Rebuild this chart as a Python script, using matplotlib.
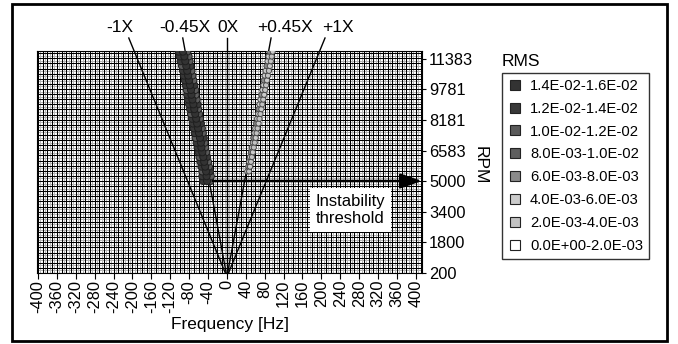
import matplotlib
matplotlib.use('Agg')
import matplotlib.pyplot as plt
import numpy as np
from matplotlib.colors import ListedColormap, BoundaryNorm
from matplotlib.lines import Line2D
from matplotlib.patches import Rectangle

plt.rcParams['font.family'] = ['Liberation Sans', 'DejaVu Sans']

# ---------------- data ----------------
freq_ticks = list(range(-400, 401, 40))
rpm_ticks = [200, 1800, 3400, 5000, 6583, 8181, 9781, 11383]
order_names = ['-1X', '-0.45X', '0X', '+0.45X', '+1X']
order_values = [-1.0, -0.45, 0.0, 0.45, 1.0]
threshold_rpm = 5000

rms_bins = ['1.4E-02-1.6E-02', '1.2E-02-1.4E-02', '1.0E-02-1.2E-02', '8.0E-03-1.0E-02',
            '6.0E-03-8.0E-03', '4.0E-03-6.0E-03', '2.0E-03-4.0E-03', '0.0E+00-2.0E-03']
rms_edges = [0.0, 0.002, 0.004, 0.006, 0.008, 0.010, 0.012, 0.014, 0.016]
rms_colors_low_to_high = ['#ffffff', '#c2c2c2', '#cbcbcb', '#8a8a8a',
                          '#5e5e5e', '#5a5a5a', '#383838', '#333333']

# sub-synchronous component near -0.45X (rows of the waterfall)
neg_rpm = [5000, 5250, 5500, 5750, 6000, 6250, 6500, 6750, 7000, 7250, 7500, 7750, 8000, 8250,
           8500, 8750, 9000, 9250, 9500, 9750, 10000, 10250, 10500, 10750, 11000, 11250, 11500, 11750]
neg_mid = [-42, -43, -44, -46, -48, -50, -52, -54, -55, -57, -59, -61, -63, -65,
           -67, -69, -71, -73, -75, -76, -78, -80, -82, -84, -86, -88, -90, -93]
neg_left = [-50, -52, -52, -54, -56, -58, -60, -62, -64, -66, -68, -70, -72, -74,
            -76, -78, -80, -82, -84, -85, -87, -89, -91, -93, -95, -98, -100, -102]
neg_right = [-35, -34, -36, -38, -40, -42, -44, -46, -47, -49, -51, -53, -55, -57,
             -59, -61, -62, -64, -66, -67, -69, -71, -73, -75, -77, -79, -81, -84]
neg_rms_mid = [0.015, 0.015, 0.015, 0.015, 0.015, 0.015, 0.015, 0.015, 0.015, 0.015, 0.015, 0.015, 0.015, 0.015,
               0.015, 0.015, 0.015, 0.015, 0.015, 0.015, 0.015, 0.015, 0.015, 0.015, 0.015, 0.015, 0.015, 0.015]
neg_rms_left = [0.013, 0.013, 0.011, 0.013, 0.013, 0.011, 0.013, 0.013, 0.013, 0.011, 0.013, 0.013, 0.013, 0.013,
                0.011, 0.013, 0.013, 0.013, 0.013, 0.011, 0.013, 0.013, 0.013, 0.013, 0.011, 0.013, 0.013, 0.013]
neg_rms_right = [0.011, 0.009, 0.013, 0.011, 0.009, 0.013, 0.011, 0.009, 0.011, 0.013, 0.009, 0.011, 0.013, 0.009,
                 0.011, 0.009, 0.013, 0.011, 0.009, 0.011, 0.013, 0.009, 0.011, 0.009, 0.013, 0.011, 0.009, 0.011]

# super-synchronous faint component near +0.45X
pos_rpm = [5500, 5750, 6000, 6250, 6500, 6750, 7000, 7250, 7500, 7750, 8000, 8250, 8500,
           8750, 9000, 9250, 9500, 9750, 10000, 10250, 10500, 10750, 11000, 11250, 11500, 11750]
pos_a = [43, 45, 47, 49, 51, 53, 55, 56, 58, 60, 62, 64, 66,
         67, 69, 71, 73, 75, 77, 78, 80, 82, 84, 86, 88, 90]
pos_b = [47, 49, 51, 53, 55, 57, 59, 61, 63, 65, 67, 69, 71,
         73, 75, 77, 79, 81, 83, 85, 87, 89, 91, 93, 95, 97]
pos_rms_a = [0.005, 0.007, 0.005, 0.005, 0.007, 0.005, 0.005, 0.007, 0.005, 0.005, 0.007, 0.005, 0.005,
             0.007, 0.005, 0.005, 0.007, 0.005, 0.005, 0.007, 0.005, 0.005, 0.007, 0.005, 0.005, 0.007]
pos_rms_b = [0.003, 0.005, 0.003, 0.003, 0.005, 0.003, 0.003, 0.005, 0.003, 0.003, 0.005, 0.003, 0.003,
             0.005, 0.003, 0.003, 0.005, 0.003, 0.003, 0.005, 0.003, 0.003, 0.005, 0.003, 0.003, 0.005]

# ---------------- figure ----------------
W, H = 678, 344
fig = plt.figure(figsize=(W / 100, H / 100), dpi=100)


def fx(px):
    return px / W


def fy(py):
    return 1 - py / H


ax = fig.add_axes([fx(37), fy(273), (422 - 37) / W, (273 - 51) / H])
ax.set_xlim(-402, 413)
ax.set_ylim(200, 11783)

# dense grid
for x in np.arange(-400, 413, 10):
    ax.axvline(x, color='black', lw=0.75, zorder=1)
for x in np.arange(-395, 413, 10):
    ax.axvline(x, color='#b4b4b4', lw=0.7, zorder=0.9)
step = 1600 / 6
for y in np.arange(200, 11783, step):
    ax.axhline(y, color='black', lw=0.75, zorder=1)
for y in np.arange(200 + step / 2, 11783, step):
    ax.axhline(y, color='#b4b4b4', lw=0.7, zorder=0.9)

for s in ax.spines.values():
    s.set_linewidth(0.8)

# order lines
line_rpm = [200, 12461]
for k in order_values:
    ax.plot([k * r / 60 for r in line_rpm], line_rpm, color='black', lw=1.0,
            clip_on=False, zorder=2)

# waterfall points
cmap = ListedColormap(rms_colors_low_to_high)
norm = BoundaryNorm(rms_edges, cmap.N)
ax.scatter(pos_a + pos_b, pos_rpm + pos_rpm, c=pos_rms_a + pos_rms_b, cmap=cmap, norm=norm,
           s=14, edgecolors='#4a4a4a', linewidths=0.7, zorder=3)
ax.scatter(neg_left + neg_right + neg_mid, neg_rpm * 3,
           c=neg_rms_left + neg_rms_right + neg_rms_mid, cmap=cmap, norm=norm,
           s=26, edgecolors='#1e1e1e', linewidths=0.7, zorder=3)

# instability threshold arrow
ax.annotate('', xy=(413, threshold_rpm), xytext=(-30, threshold_rpm),
            arrowprops=dict(arrowstyle='-|>,head_length=1.3,head_width=0.45',
                            color='black', lw=1.8, mutation_scale=10, shrinkA=0, shrinkB=0),
            annotation_clip=False, zorder=4)
ax.text(262, 3487, 'Instability\nthreshold', ha='center', va='center', fontsize=12,
        multialignment='left', linespacing=1.2,
        bbox=dict(facecolor='white', edgecolor='none', boxstyle='square,pad=0.35'), zorder=5)

# ticks
ax.set_xticks(freq_ticks)
ax.set_xticklabels([str(v) for v in freq_ticks], rotation=90)
ax.tick_params(axis='x', direction='out', length=4, width=0.8, labelsize=11.8, pad=1)
ax.yaxis.tick_right()
ax.set_yticks(rpm_ticks)
ax.set_yticklabels([str(v) for v in rpm_ticks])
ax.tick_params(axis='y', direction='out', length=3, width=0.8, labelsize=11.8, pad=2)

# labels
fig.text(fx(230), fy(324), 'Frequency [Hz]', ha='center', va='center', fontsize=12.5)
fig.text(fx(480), fy(165), 'RPM', ha='center', va='center', fontsize=12.5, rotation=270)
label_px = [120, 185, 228, 285, 338]
for name, px in zip(order_names, label_px):
    fig.text(fx(px), fy(27), name, ha='center', va='center', fontsize=12.5)

# legend
handles = [Line2D([], [], marker='s', ls='none', markersize=7.5, markerfacecolor=c,
                  markeredgecolor='#222222', markeredgewidth=0.8)
           for c in rms_colors_low_to_high[::-1]]
leg = fig.legend(handles, rms_bins, loc='upper left', bbox_to_anchor=(fx(502), fy(73)),
                 frameon=True, fancybox=False, edgecolor='black', fontsize=10.6,
                 handlelength=0.9, handletextpad=0.6, labelspacing=0.6,
                 borderpad=0.4, borderaxespad=0)
leg.get_frame().set_linewidth(1.0)
fig.text(fx(502), fy(62), 'RMS', ha='left', va='center', fontsize=12.5)

# outer frame
fig.patches.append(Rectangle((fx(12), fy(341)), (667 - 12) / W, (341 - 4) / H,
                             transform=fig.transFigure, fill=False, lw=2, ec='black'))

fig.savefig('out.png', dpi=100)
